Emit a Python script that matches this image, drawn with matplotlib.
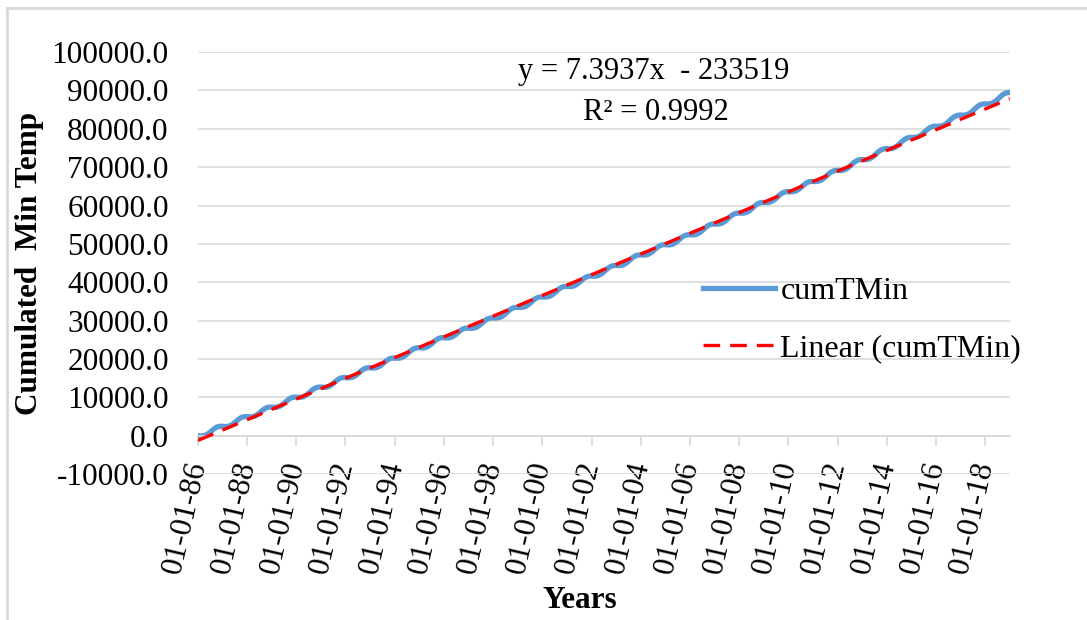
import numpy as np
import pandas as pd
import matplotlib
matplotlib.use("Agg")
import matplotlib.pyplot as plt
import matplotlib.dates as mdates
from matplotlib.lines import Line2D

plt.rcParams['font.family'] = ['Liberation Serif', 'DejaVu Serif']

# estimated monthly mean minimum temperature (deg C) and yearly anomalies
years = list(range(1986, 2019))
clim_tmin = [-1.4, 0.2, 3.0, 6.5, 10.5, 14.0, 16.0, 15.5, 12.0, 8.0, 3.5, 0.5]
year_anom = [-0.7, -0.5, -0.6, -0.3, -0.2, -0.6, -0.4, -0.5, 0.0, -0.2, -0.6,
             -0.1, 0.2, 0.0, 0.1, 0.0, 0.2, 0.1, -0.1, -0.3, 0.3, 0.4, 0.2,
             0.3, -0.1, 0.5, 0.3, 0.4, 0.7, 0.6, 0.5, 0.6, 0.7]

# Excel trendline (x = Excel date serial)
slope = 7.3937
intercept = -233519
eq_text = "y = 7.3937x  - 233519"
r2_text = "R² = 0.9992"

month_ends = pd.date_range("1986-01-31", "2018-12-31", freq="ME")
monthly_sum = []
for d in month_ends:
    t = clim_tmin[d.month - 1] + year_anom[years.index(d.year)]
    monthly_sum.append(t * d.day)
dates = [pd.Timestamp("1986-01-01")] + list(month_ends)
cum = np.concatenate([[0.0], np.cumsum(monthly_sum)])

fs = 22.5
fig = plt.figure(figsize=(10.87, 6.2), dpi=100)
ax = fig.add_axes([0.182, 0.2355, 0.747, 0.6805])

x_num = mdates.date2num(dates)
trend = slope * (x_num + 25569) + intercept
ax.plot(dates, cum, color='#5B9BD5', lw=3.8, label='cumTMin', zorder=2)
ax.plot(dates, trend, color='#FF0000', lw=2.4, ls=(0, (5, 3)),
        dash_capstyle='butt', label='Linear (cumTMin)', zorder=3)

ax.set_xlim(pd.Timestamp("1986-01-01"), pd.Timestamp("2019-01-01"))
ax.set_ylim(-10000, 100000)
ax.set_yticks(np.arange(-10000, 100001, 10000))
ax.yaxis.set_major_formatter(plt.FuncFormatter(lambda v, p: f"{v:.1f}"))
ax.grid(axis='y', color='#D9D9D9', lw=1.2)
ax.set_axisbelow(True)

ax.xaxis.set_major_locator(mdates.YearLocator(2, month=1, day=1))
ax.xaxis.set_major_formatter(mdates.DateFormatter('%d-%m-%y'))

for s in ['top', 'right', 'left']:
    ax.spines[s].set_visible(False)
ax.spines['bottom'].set_position(('data', 0))
ax.spines['bottom'].set_color('#D9D9D9')
ax.spines['bottom'].set_linewidth(1.2)

ax.tick_params(axis='y', length=0, pad=21, labelsize=fs)
ax.tick_params(axis='x', length=7, width=1.2, color='#D9D9D9', pad=12, labelsize=fs)
for lab in ax.get_xticklabels():
    lab.set_rotation(77)
    lab.set_rotation_mode('anchor')
    lab.set_ha('right')
    lab.set_va('center')

ax.set_ylabel('Cumulated  Min Temp', fontsize=fs, fontweight='bold')
ax.yaxis.set_label_coords(-0.19, 0.5)
fig.text(0.533, 0.032, 'Years', fontsize=fs, fontweight='bold', ha='center', va='center')

fig.text(0.601, 0.884, eq_text, fontsize=22, ha='center', va='center')
fig.text(0.603, 0.819, r2_text, fontsize=22, ha='center', va='center')

handles = [Line2D([], [], color='#5B9BD5', lw=3.8),
           Line2D([], [], color='#FF0000', lw=2.4, ls=(0, (5, 3)), dash_capstyle='butt')]
fig.legend(handles, ['cumTMin', 'Linear (cumTMin)'], loc='center left',
           bbox_to_anchor=(0.6467, 0.484), bbox_transform=fig.transFigure,
           frameon=False, fontsize=23, handlelength=2.25, handletextpad=0.17,
           labelspacing=0.85, borderpad=0, borderaxespad=0)

fig.add_artist(Line2D([0.0065, 0.0065], [0.0, 0.987], color='#D9D9D9', lw=2,
                      transform=fig.transFigure))
fig.add_artist(Line2D([0.0065, 1.0], [0.987, 0.987], color='#D9D9D9', lw=2,
                      transform=fig.transFigure))

fig.savefig('out.png', dpi=100)
